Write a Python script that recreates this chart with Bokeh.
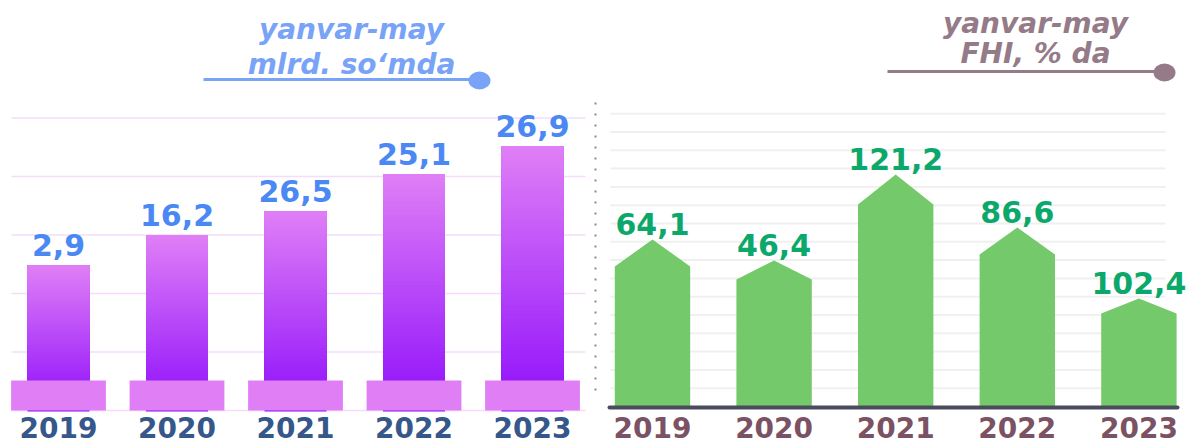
from bokeh.plotting import figure
from bokeh.models import Range1d, ColumnDataSource
from bokeh.layouts import row
from bokeh.embed import file_html
from bokeh.resources import INLINE
from bokeh.core.properties import value

# ---------------- data ----------------
years = ["2019", "2020", "2021", "2022", "2023"]

# left panel: yanvar-may, mlrd. so'mda
revenue = [2.9, 16.2, 26.5, 25.1, 26.9]
# drawn bar heights (grid step = 5 units)
revenue_drawn = [12.4, 15.0, 17.0, 20.2, 22.6]

# right panel: yanvar-may, FHI % da
growth = [64.1, 46.4, 121.2, 86.6, 102.4]
# drawn house-shaped bar heights (grid step = 10 units)
growth_shoulder = [76.5, 69.4, 110.4, 83.1, 50.8]
growth_peak = [91.3, 79.8, 126.8, 97.8, 59.0]


def fmt(v):
    return f"{v:.1f}".replace(".", ",")


FONT = value("DejaVu Sans")
H = 445
MID = 0.346  # distance (in em) from the middle anchor down to the alphabetic baseline


def hex2rgb(h):
    h = h.lstrip("#")
    return tuple(int(h[i:i + 2], 16) for i in (0, 2, 4))


def mix(c0, c1, t):
    a, b = hex2rgb(c0), hex2rgb(c1)
    return "#%02x%02x%02x" % tuple(round(a[i] + (b[i] - a[i]) * t) for i in range(3))


def base_fig(width, xr, yr, pxr):
    p = figure(width=width, height=H, x_range=xr, y_range=yr,
               x_axis_location=None, y_axis_location=None,
               toolbar_location=None, output_backend="svg", min_border=0)
    p.extra_x_ranges = {"px": Range1d(pxr[0], pxr[1])}
    p.extra_y_ranges = {"px": Range1d(H, 0)}
    p.outline_line_color = None
    p.grid.grid_line_color = None
    p.background_fill_color = "white"
    p.border_fill_color = "white"
    return p


def title_text(p, x, y, txt, color, fs=28):
    p.text(x=[x], y=[y], text=[txt], x_range_name="px", y_range_name="px",
           y_offset=-MID * fs,
           text_align="center", text_baseline="middle", text_font=FONT,
           text_font_style="bold italic", text_font_size=f"{fs}px", text_color=color)


idx = list(range(len(years)))

# ---------------- left figure ----------------
WL = 600
sx_l = 118.5
sy_l = 11.7
x0_l = -58 / sx_l
y0_l = -35 / sy_l
left = base_fig(WL, Range1d(x0_l, x0_l + WL / sx_l), Range1d(y0_l, y0_l + H / sy_l), (0, WL))

# grid lines
gy = [0, 5, 10, 15, 20, 25]
left.segment(x0=[11] * len(gy), x1=[585] * len(gy), y0=gy, y1=gy,
             x_range_name="px", line_color="#F5DCFA", line_width=1.5)

# gradient bars: each slice runs to the bar top, later (lighter) slices drawn over earlier ones
N = 60
top_c, bot_c = "#E07FF6", "#8E0EFB"
bx, bb, bt, bc = [], [], [], []
for i, h in zip(idx, revenue_drawn):
    lo = -0.09
    for k in range(N):
        b = lo + (h - lo) * k / N
        bx.append(i)
        bb.append(b)
        bt.append(h)
        bc.append(mix(bot_c, top_c, (k + 0.5) / N))
left.vbar(x="x", bottom="b", top="t", width=0.523, fill_color="c", line_color=None,
          source=ColumnDataSource(dict(x=bx, b=bb, t=bt, c=bc)))

# base plates
left.vbar(x=idx, bottom=0, top=30 / sy_l, width=0.80, fill_color="#E07FF5", line_color=None)

# value labels (baseline 10px above bar top)
left.text(x=idx, y=revenue_drawn, text=[fmt(v) for v in revenue], y_offset=-10 - MID * 30,
          text_align="center", text_baseline="middle", text_font=FONT,
          text_font_style="bold", text_font_size="30px", text_color="#4A88F3")

# year labels (baseline just above bottom edge)
left.text(x=idx, y=[y0_l] * len(idx), text=years, y_offset=-8.5 - MID * 28,
          text_align="center", text_baseline="middle", text_font=FONT,
          text_font_style="bold", text_font_size="28px", text_color="#35578A")

# title
lc = "#78A3F7"
title_text(left, 351, 39, "yanvar-may", lc)
title_text(left, 351, 74, "mlrd. so\u2018mda", lc)
left.segment(x0=[203], x1=[472], y0=[79], y1=[79], x_range_name="px", y_range_name="px",
             line_color=lc, line_width=3)
left.ellipse(x=[479], y=[80], width=22, height=18, width_units="screen", height_units="screen",
             x_range_name="px", y_range_name="px", fill_color=lc, line_color=None)

# dotted separator
left.segment(x0=[595], x1=[595], y0=[102], y1=[393], x_range_name="px", y_range_name="px",
             line_color="#8A8A8A", line_width=2, line_dash="2 9")

# ---------------- right figure ----------------
WR = 595
sx_r = 121.6
sy_r = 1.83
x0_r = -52 / sx_r
y0_r = -39 / sy_r
right = base_fig(WR, Range1d(x0_r, x0_r + WR / sx_r), Range1d(y0_r, y0_r + H / sy_r), (600, 600 + WR))

gy2 = list(range(10, 161, 10))
right.segment(x0=[610] * len(gy2), x1=[1165] * len(gy2), y0=gy2, y1=gy2,
              x_range_name="px", line_color="#F0F0F0", line_width=2)

hw = 0.31
xs, ys = [], []
for i, s, pk in zip(idx, growth_shoulder, growth_peak):
    xs.append([i - hw, i - hw, i, i + hw, i + hw])
    ys.append([0, s, pk, s, 0])
right.patches(xs=xs, ys=ys, fill_color="#74C96B", line_color=None)

right.segment(x0=[609], x1=[1177], y0=[407], y1=[407], x_range_name="px", y_range_name="px",
              line_color="#4A4B5C", line_width=4, line_cap="round")

right.text(x=idx, y=growth_peak, text=[fmt(v) for v in growth], y_offset=-5 - MID * 30,
           text_align="center", text_baseline="middle", text_font=FONT,
           text_font_style="bold", text_font_size="30px", text_color="#0CA86B")

right.text(x=idx, y=[y0_r] * len(idx), text=years, y_offset=-8.5 - MID * 28,
           text_align="center", text_baseline="middle", text_font=FONT,
           text_font_style="bold", text_font_size="28px", text_color="#7B5263")

rc = "#957B88"
title_text(right, 1035, 33, "yanvar-may", rc)
title_text(right, 1035, 63, "FHI, % da", rc)
right.segment(x0=[887], x1=[1157], y0=[71], y1=[71], x_range_name="px", y_range_name="px",
              line_color=rc, line_width=3)
right.ellipse(x=[1164], y=[72], width=22, height=18, width_units="screen", height_units="screen",
              x_range_name="px", y_range_name="px", fill_color=rc, line_color=None)

layout = row(left, right)
open("out.html", "w").write(file_html(layout, INLINE))
